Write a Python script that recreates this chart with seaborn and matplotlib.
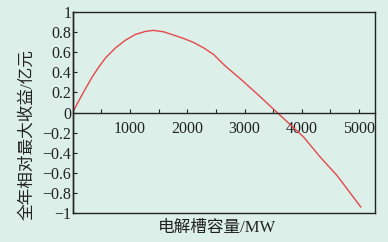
import numpy as np
import pandas as pd
import seaborn as sns
import matplotlib.pyplot as plt
from matplotlib.ticker import MultipleLocator, FuncFormatter

# values
capacity = [0, 112, 227, 344, 460, 576, 750, 925, 1099, 1273, 1413, 1587,
            1762, 1936, 2110, 2285, 2459, 2663, 2955, 3244, 3570, 4030,
            4320, 4612, 5030]
profit = [0, 0.12, 0.24, 0.356, 0.456, 0.546, 0.646, 0.723, 0.78, 0.81, 0.82,
          0.806, 0.773, 0.74, 0.70, 0.646, 0.58, 0.465, 0.323, 0.173, 0,
          -0.244, -0.444, -0.627, -0.944]

x_label = "电解槽容量/MW"
y_label = "全年相对最大收益/亿元"

sns.set_style("ticks")
plt.rcParams['font.family'] = ['Liberation Serif', 'Noto Sans CJK SC', 'DejaVu Sans']
plt.rcParams['axes.unicode_minus'] = True

bg = '#dcefe9'
fig = plt.figure(figsize=(3.88, 2.42), dpi=100, facecolor=bg)
pos = [0.187, 0.121, 0.780, 0.828]
ax = fig.add_axes(pos)
ax.set_facecolor(bg)

df = pd.DataFrame({'cap': capacity, 'profit': profit})
sns.lineplot(data=df, x='cap', y='profit', ax=ax, color='#e5484c',
             linewidth=1.0, sort=False)

ax.set_xlim(0, 5280)
ax.set_ylim(-1, 1)

# x axis sits on the zero line, ticks inward
ax.spines['bottom'].set_position(('data', 0))
ax.spines['bottom'].set_linewidth(1.0)
ax.spines['left'].set_linewidth(1.0)
ax.spines['top'].set_visible(False)
ax.spines['right'].set_visible(False)
ax.xaxis.set_minor_locator(MultipleLocator(500))
ax.yaxis.set_major_locator(MultipleLocator(0.2))
ax.tick_params(axis='x', which='both', direction='in', length=3, width=0.8,
               labelsize=11.5, pad=6, colors='#222222')
ax.tick_params(axis='y', which='both', direction='in', length=3, width=0.8,
               labelsize=11.5, pad=1, colors='#222222')
ax.set_xticks([1000, 2000, 3000, 4000, 5000])
ax.xaxis.set_major_formatter(FuncFormatter(lambda v, p: f'{int(v)}'))

def yfmt(v, p):
    s = f'{v:.1f}'.rstrip('0').rstrip('.')
    if s in ('-0', '0'):
        return '0'
    return s.replace('-', '\u2212')

ax.yaxis.set_major_formatter(FuncFormatter(yfmt))
ax.set_xlabel('')
ax.set_ylabel('')

# outer frame
frame = fig.add_axes(pos)
frame.patch.set_visible(False)
frame.set_xticks([])
frame.set_yticks([])
for s in frame.spines.values():
    s.set_linewidth(1.0)
    s.set_color('#222222')

fig.text(0.56, 0.058, x_label,
         ha='center', va='center', fontsize=12, color='#222222')
fig.text(0.07, 0.445, y_label, rotation=90, ha='center', va='center',
         fontsize=12, color='#222222')

fig.savefig('out.png', dpi=100, facecolor=bg)
